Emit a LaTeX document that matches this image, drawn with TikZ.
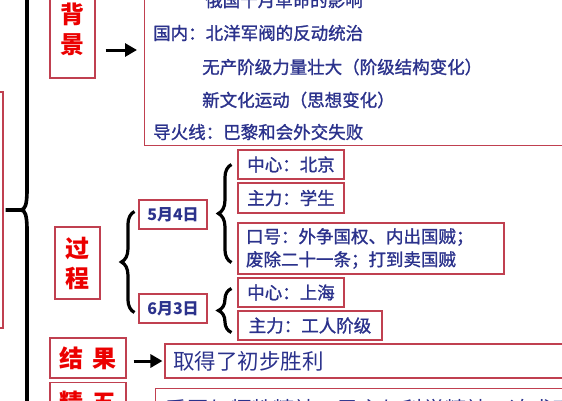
\documentclass[tikz,border=0pt]{standalone}
\usepackage{fontspec}
\setmainfont{Noto Sans CJK SC}
\newfontfamily\heavycjk[FakeBold=1.2]{Noto Sans CJK SC}
\usetikzlibrary{arrows.meta, decorations.pathreplacing}
\definecolor{boxred}{RGB}{192,64,80}
\definecolor{txtblue}{RGB}{43,50,140}
\definecolor{titred}{RGB}{235,0,0}

\begin{document}
\begin{tikzpicture}[x=1pt, y=-1pt,
  box/.style={draw=boxred, line width=1.1pt, inner sep=0pt},
  title/.style={box, text=titred, font=\fontsize{24}{30}\selectfont\bfseries, align=center},
  item/.style={box, text=txtblue, font=\fontsize{17.5}{23}\selectfont\heavycjk, align=left, minimum height=29pt, inner xsep=8pt},
  date/.style={box, text=txtblue, font=\fontsize{16}{20}\selectfont\bfseries, minimum width=68pt, minimum height=29pt},
  line/.style={anchor=west, text=txtblue, font=\fontsize{17.5}{20}\selectfont\heavycjk, inner sep=0pt},
  arr/.style={-{Triangle[length=12pt,width=13pt]}, line width=3pt},
  curly/.style={decorate, decoration={brace, amplitude=13pt}, line width=3.2pt}]
\clip (0,0) rectangle (562,400);
\fill[white] (0,0) rectangle (562,400);
% left frame and main brace
\node[box, minimum width=100pt, minimum height=236pt] (lbox) at (-47,210) {};
\draw[line width=3.6pt] ([xshift=2pt]lbox.east) -- ++(15,0) .. controls (25,210) and (27,205) .. (27,190) -- (27,-10) .. controls (27,-20) and (30,-25) .. (36,-28);
\draw[line width=3.6pt] (21,210) .. controls (25,210) and (27,215) .. (27,230) -- (27,420);
% background
\node[title, minimum width=45pt, minimum height=98pt] (bj) at (72.5,29) {背\\景};
\node[box, minimum width=500pt, minimum height=200pt, anchor=south west] (bgbox) at (144,146) {};
\foreach \y/\x/\t in {0/205/俄国十月革命的影响, 33/153/国内：北洋军阀的反动统治, 67/202/无产阶级力量壮大（阶级结构变化）, 100/202/新文化运动（思想变化）, 132/153/导火线：巴黎和会外交失败}
  \node[line] (l\y) at (\x,\y) {\t};
\path ([yshift=-21pt]bj.east) coordinate (bjout);
\draw[arr, shorten <=10pt, shorten >=7pt] (bjout) -- (bjout -| bgbox.west);
% process
\node[title, minimum width=45pt, minimum height=72pt] (gc) at (77.5,263) {过\\程};
\node[date] (d1) at (173,214.5) {5月4日};
\node[date] (d2) at (173,308.5) {6月3日};
\node[item, minimum width=106pt] (c1) at (291,164.5) {中心：北京};
\node[item, minimum width=106pt, minimum height=30pt] (c2) at (291,198) {主力：学生};
\node[item, minimum width=266pt, minimum height=51pt, text width=250pt] (c3) at (371,248.5) {口号：外争国权、内出国贼；\\废除二十一条；打到卖国贼};
\node[item, minimum width=106pt] (c4) at (291,292.5) {中心：上海};
\node[item, minimum width=144pt] (c5) at (310,325.5) {主力：工人阶级};
\draw[curly] ([xshift=-4pt,yshift=-4pt]d2.west) -- ([xshift=-4pt,yshift=3pt]d1.west);
\draw[curly] ([xshift=-6pt,yshift=12pt]c3.south west) -- ([xshift=-6pt]c1.west);
\draw[curly] ([xshift=-6pt,yshift=-7pt]c5.west) -- ([xshift=-6pt,yshift=4pt]c4.west);
% result
\node[title, minimum width=76pt, minimum height=40pt] (jg) at (88,358) {结\hspace{9pt}果};
\node[box, text=txtblue, font=\fontsize{21.5}{26}\selectfont, minimum height=34pt, text width=427pt, inner xsep=8pt, align=left] (jgt) at (386.5,361) {取得了初步胜利};
\draw[arr, shorten <=7pt, shorten >=2pt] (jg.east |- jgt.west) -- (jgt.west);
% spirit
\node[title, minimum width=76pt, minimum height=40pt, anchor=north] (js) at (88,382) {精\hspace{9pt}五};
\node[box, text=txtblue, font=\fontsize{21.5}{26}\selectfont, minimum height=42pt, text width=437pt, inner xsep=10pt, align=left, anchor=north west] (jst) at (155,388) {爱国与牺牲精神、民主与科学精神、追求真理};
\end{tikzpicture}
\end{document}
